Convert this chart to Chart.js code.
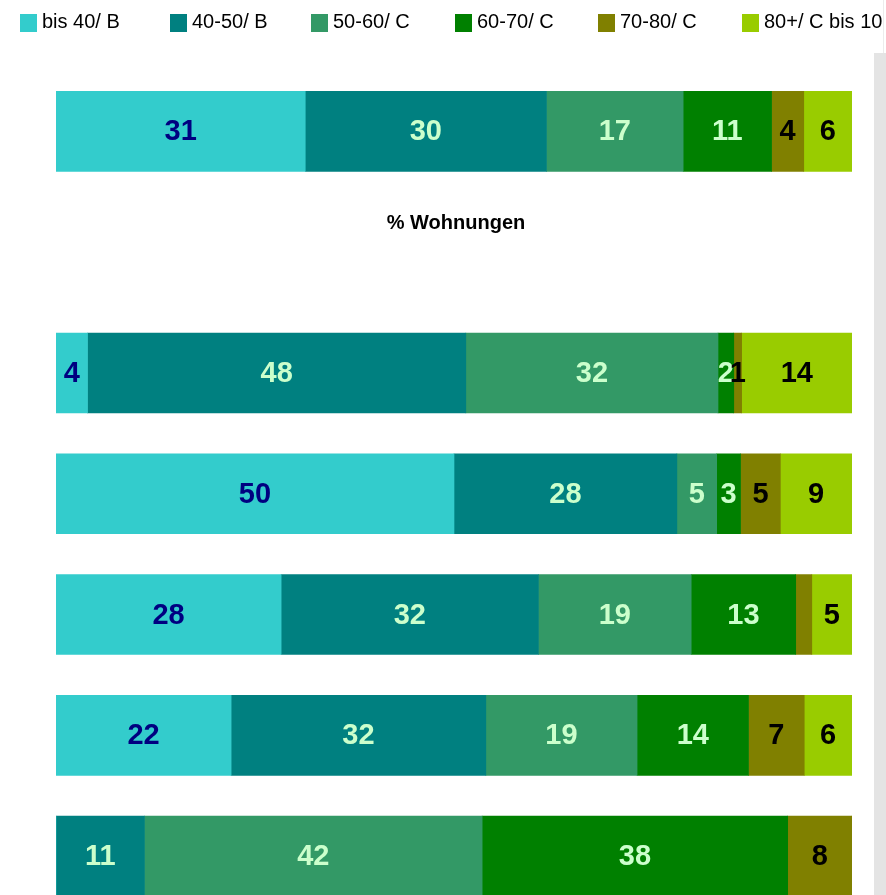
<!DOCTYPE html>
<html>
<head>
<meta charset="utf-8">
<script src="https://cdn.jsdelivr.net/npm/chart.js@4/dist/chart.umd.min.js"></script>
<style>
  html, body { margin: 0; padding: 0; width: 886px; height: 895px; overflow: hidden; background: #fff; }
  #wrap { position: relative; width: 886px; height: 895px; overflow: hidden; }
  #c { position: absolute; left: 0; top: 0; }
  .lg { position: absolute; top: 0; height: 40px; white-space: nowrap; font-family: "Liberation Sans", Arial, sans-serif; font-size: 20px; color: #000; }
  .lg .box { position: absolute; top: 14px; width: 17px; height: 18px; }
  .lg .txt { position: absolute; top: 9px; left: 22px; line-height: 24px; }
  #scrollTrack { position: absolute; left: 874px; top: 53px; width: 12px; height: 842px; background: #e4e4e4; }
  #scrollLine { position: absolute; left: 883px; top: 0; width: 1px; height: 53px; background: #ececec; }
</style>
</head>
<body>
<div id="wrap">
  <canvas id="c" width="886" height="920"></canvas>
  <div id="legend"></div>
  <div id="scrollLine"></div>
  <div id="scrollTrack"></div>
</div>
<script>
// ---- data ----
const categories = ["Reihe 1", "", "Reihe 2", "Reihe 3", "Reihe 4", "Reihe 5", "Reihe 6"];
const seriesNames = ["bis 40/ B", "40-50/ B", "50-60/ C", "60-70/ C", "70-80/ C", "80+/ C bis 10"];
const bis40   = [31, null, 4, 50, 28, 22, 0];
const s40_50  = [30, null, 48, 28, 32, 32, 11];
const s50_60  = [17, null, 32, 5, 19, 19, 42];
const s60_70  = [11, null, 2, 3, 13, 14, 38];
const s70_80  = [4, null, 1, 5, 2, 7, 8];
const s80plus = [6, null, 14, 9, 5, 6, 0];
const axisTitle = "% Wohnungen";
// labels not shown in the reference: [seriesIndex, categoryIndex]
const noLabel = [[4, 4]];

// ---- styles ----
const colors = ["#33CCCC", "#008080", "#339966", "#008000", "#808000", "#99CC00"];
const labelColors = ["#000080", "#CCFFCC", "#CCFFCC", "#CCFFCC", "#000000", "#000000"];
const legendLeft = [20, 170, 311, 455, 598, 742];

const raw = [bis40, s40_50, s50_60, s60_70, s70_80, s80plus];
const totals = categories.map((_, i) => raw.reduce((s, arr) => s + (arr[i] || 0), 0));
const pct = raw.map(arr => arr.map((v, i) => v === null ? null : (totals[i] ? v / totals[i] * 100 : 0)));

// HTML legend
const lg = document.getElementById('legend');
seriesNames.forEach((n, i) => {
  const d = document.createElement('div');
  d.className = 'lg';
  d.style.left = legendLeft[i] + 'px';
  d.innerHTML = '<div class="box" style="background:' + colors[i] + '"></div><div class="txt"></div>';
  d.querySelector('.txt').textContent = n;
  lg.appendChild(d);
});

const labelPlugin = {
  id: 'segLabels',
  afterDatasetsDraw(chart) {
    const ctx = chart.ctx;
    ctx.save();
    ctx.font = 'bold 29px "Liberation Sans", Arial, sans-serif';
    ctx.textAlign = 'center';
    ctx.textBaseline = 'alphabetic';
    chart.data.datasets.forEach((ds, di) => {
      const meta = chart.getDatasetMeta(di);
      meta.data.forEach((el, ci) => {
        const v = raw[di][ci];
        if (v === null || v === 0) return;
        if (noLabel.some(p => p[0] === di && p[1] === ci)) return;
        const x = (el.x + el.base) / 2;
        ctx.fillStyle = labelColors[di];
        ctx.fillText(String(v), x, el.y + 9);
      });
    });
    // axis title text
    const ys = chart.scales.y;
    ctx.font = 'bold 20px "Liberation Sans", Arial, sans-serif';
    ctx.fillStyle = '#000';
    ctx.fillText(axisTitle, (chart.chartArea.left + chart.chartArea.right) / 2 + 2, ys.getPixelForValue(1) - 23);
    ctx.restore();
  }
};

new Chart(document.getElementById('c'), {
  type: 'bar',
  data: {
    labels: categories,
    datasets: seriesNames.map((n, i) => ({
      label: n,
      data: pct[i],
      backgroundColor: colors[i],
      borderWidth: 0,
      barThickness: 80
    }))
  },
  options: {
    indexAxis: 'y',
    responsive: false,
    animation: false,
    devicePixelRatio: 1,
    layout: { padding: { left: 56, right: 34, top: 71, bottom: 3.5 } },
    plugins: { legend: { display: false }, tooltip: { enabled: false } },
    scales: {
      x: { stacked: true, min: 0, max: 100, display: false },
      y: { stacked: true, display: false }
    }
  },
  plugins: [labelPlugin]
});
</script>
</body>
</html>
